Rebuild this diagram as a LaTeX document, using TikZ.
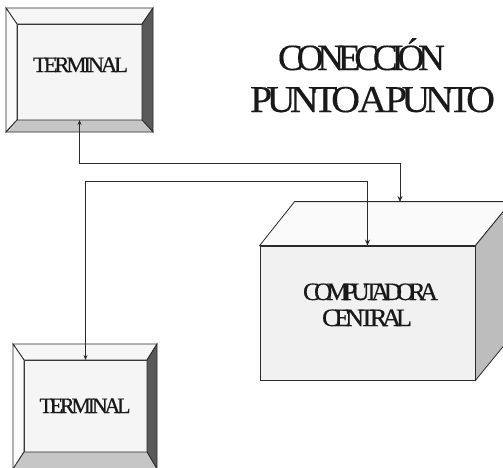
\documentclass[tikz,border=0pt]{standalone}
\usepackage{fontspec}
\usepackage{graphicx}
\setmainfont{Liberation Serif}
\usetikzlibrary{calc,arrows.meta}
\newcommand\bevelbox[5]{%
  % #1 node name, #2 left, #3 top, #4 right, #5 bottom bevel widths
  \coordinate (#1-onw) at ($(#1.north west)+(-#2,-#3)$);
  \coordinate (#1-one) at ($(#1.north east)+(#4,-#3)$);
  \coordinate (#1-ose) at ($(#1.south east)+(#4,#5)$);
  \coordinate (#1-osw) at ($(#1.south west)+(-#2,#5)$);
  \draw[bevel,fill=bevtop] (#1-onw) -- (#1-one) -- (#1.north east) -- (#1.north west) -- cycle;
  \draw[bevel,fill=bevleft] (#1-onw) -- (#1.north west) -- (#1.south west) -- (#1-osw) -- cycle;
  \draw[bevel,fill=bevright] (#1-one) -- (#1-ose) -- (#1.south east) -- (#1.north east) -- cycle;
  \draw[bevel,fill=bevbottom] (#1-osw) -- (#1.south west) -- (#1.south east) -- (#1-ose) -- cycle;
}
\newcommand\fitw[2]{\resizebox{#1}{\height}{#2}}
\definecolor{bevtop}{HTML}{F6F6F6}
\definecolor{bevleft}{HTML}{FBFBFB}
\definecolor{bevright}{HTML}{5A5A5A}
\definecolor{bevbottom}{HTML}{C6C6C6}
\definecolor{faceg}{HTML}{F5F5F5}
\definecolor{boxfront}{HTML}{F1F1F1}
\definecolor{boxtop}{HTML}{FAFAFA}
\definecolor{boxside}{HTML}{BDBDBD}
\definecolor{inkc}{HTML}{2A2A2A}
\tikzset{
  bevel/.style={draw=inkc,line width=0.8pt,line join=miter},
  face/.style={draw=inkc,line width=0.8pt,fill=faceg,inner sep=0pt,outer sep=0pt,rectangle},
  boxface/.style={draw=inkc,line width=0.8pt,line join=miter},
  lbl/.style={anchor=base,inner sep=0pt,text=black!90},
  conn/.style={draw=inkc,line width=0.7pt,{Stealth[length=5pt,width=4pt]}-{Stealth[length=6pt,width=5pt]}},
}
\begin{document}
\begin{tikzpicture}[x=1pt,y=-1pt]
\useasboundingbox (0,0) rectangle (503,467);
\clip (0,0) rectangle (503,467);
\fill[white] (0,0) rectangle (503,467);
% terminals
\node[face,minimum width=125pt,minimum height=96pt] (t1) at (79.5,72) {};
\bevelbox{t1}{11}{16}{11}{12}
\node[face,minimum width=123pt,minimum height=92pt] (t2) at (85.5,406) {};
\bevelbox{t2}{11}{16}{10}{17}
\node[lbl,font=\fontsize{22}{22}\selectfont\addfontfeatures{LetterSpace=-14,FakeBold=0.6}] (t1l) at (80.5,72) {\fitw{95pt}{TERMINAL}};
\node[lbl,font=\fontsize{22}{22}\selectfont\addfontfeatures{LetterSpace=-14,FakeBold=0.6}] (t2l) at (85,413) {\fitw{91pt}{TERMINAL}};
% central computer box
\node[boxface,fill=boxfront,minimum width=215pt,minimum height=134pt,inner sep=0pt] (cpu) at (367.5,313) {};
\draw[boxface,fill=boxtop] (cpu.north west) -- ++(35,-44) -- ($(cpu.north east)+(36,-44)$) -- (cpu.north east) -- cycle;
\draw[boxface,fill=boxside] (cpu.north east) -- ++(36,-44) -- ($(cpu.south east)+(36,-44)$) -- (cpu.south east) -- cycle;
\coordinate (cpuback) at (400,202);
\node[lbl,font=\fontsize{25}{25}\selectfont\addfontfeatures{LetterSpace=-23,FakeBold=0.4}] (cpul1) at (370.5,300) {\fitw{135pt}{COMPUTADORA}};
\node[lbl,font=\fontsize{25}{25}\selectfont\addfontfeatures{LetterSpace=-20,FakeBold=0.4}] (cpul2) at (367,326) {\fitw{90pt}{CENTRAL}};
% title
\node[lbl,font=\fontsize{37}{37}\selectfont\addfontfeatures{LetterSpace=-17,FakeBold=0.3}] (title1) at (361.5,70) {\fitw{167pt}{CONECCIÓN}};
\node[lbl,font=\fontsize{38}{38}\selectfont\addfontfeatures{LetterSpace=-14,FakeBold=0.3}] (title2) at (372.5,112) {\fitw{245pt}{PUNTO\hspace{-0.05em}A\hspace{-0.05em}PUNTO}};
% connectors
\draw[conn] (t1.south) -- ++(0,43) -| (cpuback);
\draw[conn] (t2.north) -- ++(0,-179) -| (cpu.north);
\end{tikzpicture}
\end{document}
